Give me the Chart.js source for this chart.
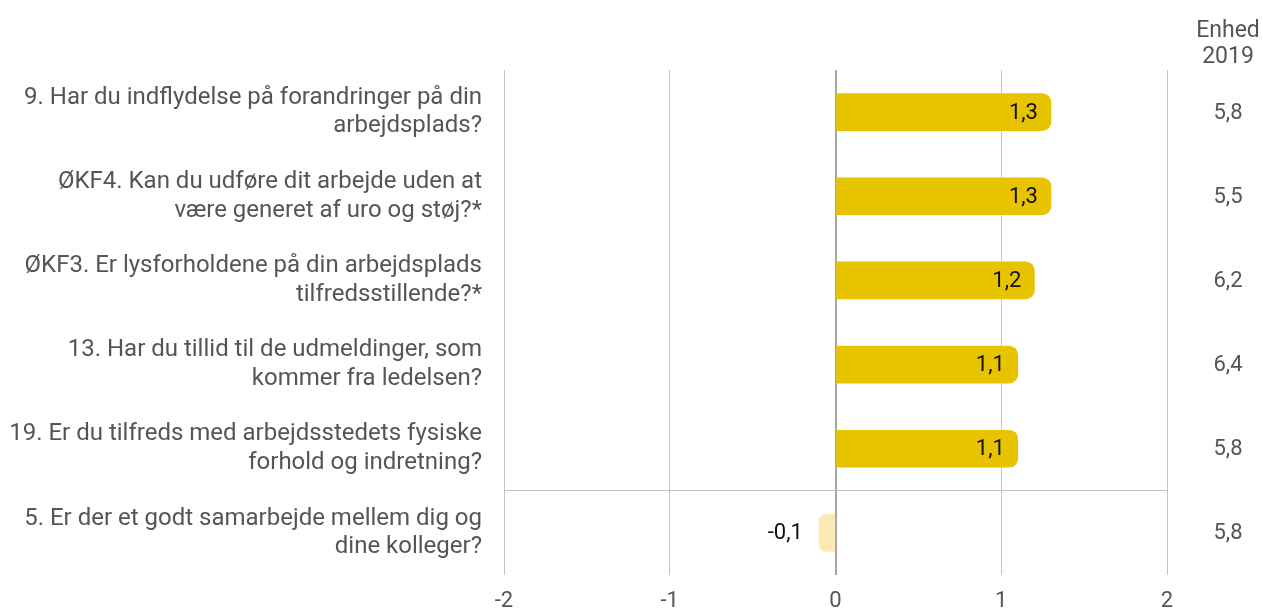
<!DOCTYPE html>
<html>
<head>
<meta charset="utf-8">
<script src="https://cdn.jsdelivr.net/npm/chart.js@4/dist/chart.umd.min.js"></script>
<style>
  body { margin: 0; background: #fff; }
  #wrap { width: 1263px; height: 610px; position: relative; }
</style>
</head>
<body>
<div id="wrap"><canvas id="barChart"></canvas></div>
<script>
// spørgsmål (kategorier)
const questions = [
    ['9. Har du indflydelse på forandringer på din', 'arbejdsplads?'],
    ['ØKF4. Kan du udføre dit arbejde uden at', 'være generet af uro og støj?*'],
    ['ØKF3. Er lysforholdene på din arbejdsplads', 'tilfredsstillende?*'],
    ['13. Har du tillid til de udmeldinger, som', 'kommer fra ledelsen?'],
    ['19. Er du tilfreds med arbejdsstedets fysiske', 'forhold og indretning?'],
    ['5. Er der et godt samarbejde mellem dig og', 'dine kolleger?']
];
const diff = [1.3, 1.3, 1.2, 1.1, 1.1, -0.1];
const enhed2019 = ['5,8', '5,5', '6,2', '6,4', '5,8', '5,8'];
const xTicks = [-2, -1, 0, 1, 2];

Chart.defaults.font.family = 'Roboto';

const fmt = v => String(v).replace('.', ',');

// tal i/ved søjlerne + Enhed kolonnen
const labelsPlugin = {
    id: 'labels',
    afterDatasetsDraw(chart) {
        const ctx = chart.ctx;
        const meta = chart.getDatasetMeta(0);
        ctx.save();
        ctx.textBaseline = 'middle';
        meta.data.forEach((bar, i) => {
            ctx.font = '22px Roboto';
            ctx.fillStyle = '#111';
            ctx.textAlign = 'right';
            if (diff[i] >= 0) {
                ctx.fillText(fmt(diff[i]), bar.x - 13, bar.y + 1);
            } else {
                ctx.fillText(fmt(diff[i]), bar.x - 16, bar.y + 1);
            }
            ctx.fillStyle = '#555';
            ctx.textAlign = 'center';
            ctx.fillText(enhed2019[i], 1228, bar.y + 1);
        });
        ctx.font = '23px Roboto';
        ctx.fillStyle = '#555';
        ctx.textAlign = 'center';
        ctx.fillText('Enhed', 1228, 31);
        ctx.fillText('2019', 1228, 57);
        ctx.restore();
    }
};

let ctx = document.getElementById('barChart').getContext('2d');
let myChart = new Chart(ctx, {
    type: 'bar',
    data: {
        labels: questions,
        datasets: [{
            data: diff,
            backgroundColor: diff.map(v => v >= 0 ? '#e8c300' : '#fbe9b4'),
            borderRadius: 9,
            borderSkipped: 'start',
            barThickness: 37
        }]
    },
    options: {
        indexAxis: 'y',
        responsive: true,
        maintainAspectRatio: false,
        animation: false,
        layout: { padding: { top: 70, right: 96, left: 0, bottom: 0 } },
        plugins: { legend: { display: false }, tooltip: { enabled: false } },
        scales: {
            x: {
                min: -2,
                max: 2,
                afterBuildTicks: s => { s.ticks = xTicks.map(v => ({ value: v })); },
                afterFit: s => { s.height = 35; s.paddingLeft = 0; s.paddingRight = 0; },
                border: { display: false },
                grid: {
                    drawTicks: false,
                    color: c => c.tick && c.tick.value === 0 ? '#a6a6a6' : '#c4c4c4',
                    lineWidth: c => c.tick && c.tick.value === 0 ? 2 : 1
                },
                ticks: {
                    padding: 13,
                    color: '#555',
                    font: { size: 22 },
                    callback: v => String(v)
                }
            },
            y: {
                // labels sidder midt i båndene, så ingen ekstra top/bund-luft
                afterFit: s => { s.width = 504; s.paddingTop = 0; s.paddingBottom = 0; },
                border: { display: false },
                grid: {
                    offset: true,
                    drawTicks: false,
                    color: c => c.index === 5 ? '#c4c4c4' : 'rgba(0,0,0,0)'
                },
                ticks: {
                    padding: 22,
                    color: '#555',
                    font: { size: 24, lineHeight: 1.2 }
                }
            }
        }
    },
    plugins: [labelsPlugin]
});
</script>
</body>
</html>
